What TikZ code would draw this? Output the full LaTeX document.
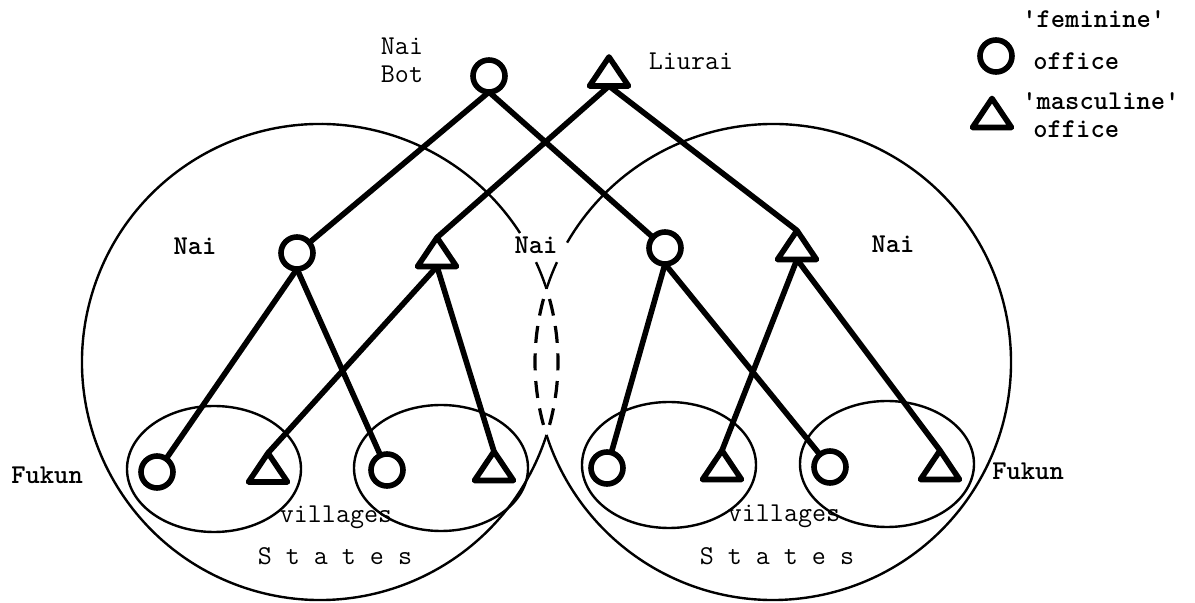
\documentclass[tikz,border=0pt]{standalone}
\usepackage{fontspec}
\begin{document}
\begin{tikzpicture}[x=0.5pt,y=-0.5pt,
  fem/.style={circle,draw,line width=2.8pt,minimum size=16pt,inner sep=0pt,outer sep=0pt},
  masc/.style={rectangle,minimum width=19.5pt,minimum height=14.5pt,inner sep=0pt,outer sep=0pt},
  tri/.style={line width=2.8pt,line join=round},
  link/.style={line width=2.8pt},
  ring/.style={line width=1.2pt},
  lens/.style={line width=1.6pt,dash pattern=on 8.5pt off 5.3pt,dash phase=8.5pt},
  lbl/.style={font=\ttfamily\fontsize{13.6}{16}\selectfont,inner sep=0pt},
  blbl/.style={font=\ttfamily\bfseries\fontsize{13.6}{16}\selectfont,inner sep=0pt}]
\useasboundingbox (0,0) rectangle (1195,603);

% the two states
\draw[ring] (320,362) ++(17.9:238) arc[start angle=17.9,end angle=327.2,radius=238];
\draw[ring] (320,362) ++(-24.8:238) arc[start angle=-24.8,end angle=-17.9,radius=238];
\draw[lens] (320,362) ++(-17.9:238) arc[start angle=-17.9,end angle=17.9,radius=238];
\draw[ring] (773,362) ++(210.1:238) arc[start angle=210.1,end angle=522.1,radius=238];
\draw[ring] (773,362) ++(197.9:238) arc[start angle=197.9,end angle=204.8,radius=238];
\draw[lens] (773,362) ++(197.9:238) arc[start angle=197.9,end angle=162.1,radius=238];

% villages
\draw[ring] (214,469) ellipse[x radius=87,y radius=63];
\draw[ring] (441,468) ellipse[x radius=87,y radius=63];
\draw[ring] (669,465) ellipse[x radius=87,y radius=63];
\draw[ring] (887,464) ellipse[x radius=87,y radius=63];

% offices
\node[fem] (nb) at (489,76) {};
\node[masc] (li) at (609,71.5) {};
\node[fem] (c2L) at (297,253) {};
\node[masc] (t2L) at (437,252) {};
\node[fem] (c2R) at (665,248) {};
\node[masc] (t2R) at (797,245) {};
\node[fem] (c3a) at (157,472) {};
\node[masc] (t3a) at (268,467.5) {};
\node[fem] (c3b) at (387,470) {};
\node[masc] (t3b) at (494,466) {};
\node[fem] (c3c) at (607,468) {};
\node[masc] (t3c) at (722,465) {};
\node[fem] (c3d) at (830,467) {};
\node[masc] (t3d) at (940,465) {};

% legend symbols
\node[fem] (legC) at (996,56) {};
\node[masc] (legT) at (992,113) {};

\foreach \n in {li,t2L,t2R,t3a,t3b,t3c,t3d,legT}
  \draw[tri] (\n.south west) -- (\n.north) -- (\n.south east) -- cycle;

% lines of descent
\draw[link] (nb.south) -- (c2L);
\draw[link] (nb.south) -- (c2R);
\draw[link] (li.south) -- (t2L.north);
\draw[link] (li.south) -- (t2R.north);
\draw[link] (c2L.south) -- (c3a);
\draw[link] (c2L.south) -- (c3b);
\draw[link] (t2L.south) -- (t3a.north);
\draw[link] (t2L.south) -- (t3b.north);
\draw[link] (c2R.south) -- (c3c);
\draw[link] (c2R.south) -- (c3d);
\draw[link] (t2R.south) -- (t3c.north);
\draw[link] (t2R.south) -- (t3d.north);

% labels
\node[lbl,anchor=base] (nbA) at (402,55) {Nai};
\node[lbl,anchor=base] (nbB) at (402,83) {Bot};
\node[lbl,anchor=base] (liu) at (691,70) {Liurai};
\node[blbl,anchor=base] (naiL) at (195,255) {Nai};
\node[blbl,anchor=base] (naiM) at (536,254) {Nai};
\node[blbl,anchor=base] (naiR) at (893,253) {Nai};
\node[blbl,anchor=base west] (fukL) at (11,484) {Fukun};
\node[blbl,anchor=base west] (fukR) at (992,480) {Fukun};
\node[lbl,anchor=base] (vilL) at (336,523) {villages};
\node[lbl,anchor=base] (vilR) at (784,522) {villages};
\node[lbl,anchor=base] (stL) at (335,565) {S t a t e s};
\node[lbl,anchor=base] (stR) at (777,565) {S t a t e s};

% legend texts
\node[blbl,anchor=base west] (legF) at (1022,28) {'feminine'};
\node[blbl,anchor=base west] (legFo) at (1033,70) {office};
\node[blbl,anchor=base west] (legM) at (1022,110) {'masculine'};
\node[blbl,anchor=base west] (legMo) at (1033,138) {office};
\end{tikzpicture}
\end{document}
